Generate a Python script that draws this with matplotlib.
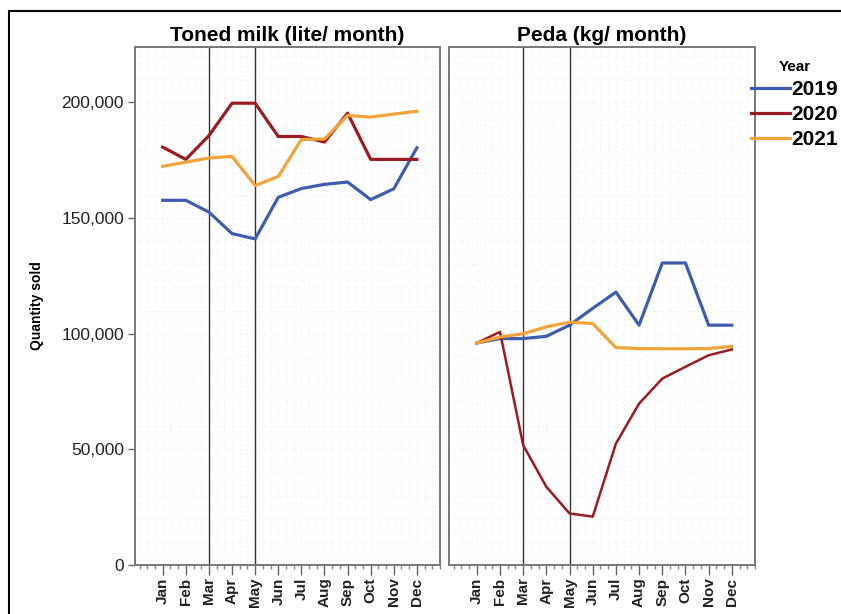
import matplotlib.pyplot as plt
from matplotlib.patches import Rectangle
from matplotlib.ticker import FuncFormatter, MultipleLocator
import numpy as np

plt.rcParams["font.family"] = ["Liberation Sans", "DejaVu Sans"]

# -------------------------
# DATA
# -------------------------
months = ["Jan", "Feb", "Mar", "Apr", "May", "Jun",
          "Jul", "Aug", "Sep", "Oct", "Nov", "Dec"]
years = ["2019", "2020", "2021"]
colors = ["#3f5daf", "#9b1b22", "#f2a33a"]

milk_2019 = [157700, 157700, 152600, 143300, 141000, 159000,
             162800, 164600, 165600, 158000, 162700, 180400]
milk_2020 = [180700, 175400, 185700, 199700, 199700, 185300,
             185300, 182900, 195400, 175400, 175400, 175400]
milk_2021 = [172400, 174200, 176000, 176700, 164100, 168000,
             184000, 184200, 194400, 193700, 195000, 196200]

peda_2019 = [96000, 97900, 97900, 98900, 103700, 111000,
             118000, 103700, 130600, 130600, 103700, 103700]
peda_2020 = [96000, 100800, 51800, 33800, 22300, 20900,
             52500, 69800, 80600, 85700, 90700, 93200]
peda_2021 = [96000, 98600, 100000, 103000, 105000, 104400,
             94000, 93600, 93500, 93500, 93600, 94500]

panel_titles = ["Toned milk (lite/ month)", "Peda (kg/ month)"]
panel_series = [[milk_2019, milk_2020, milk_2021],
                [peda_2019, peda_2020, peda_2021]]
marker_months = ["Mar", "May"]

# -------------------------
# FIGURE
# -------------------------
fig = plt.figure(figsize=(8.41, 6.14), dpi=100)
fig.patches.append(Rectangle((9 / 841, -0.1), 1.2, 1.1 - 11 / 614,
                             transform=fig.transFigure, fill=False,
                             edgecolor="black", linewidth=1.5))

x = np.arange(len(months))
positions = [(135 / 841, 440 / 841), (449 / 841, 755 / 841)]
bottom, top = 1 - 565 / 614, 1 - 47 / 614

axes = []
for i, (x0, x1) in enumerate(positions):
    ax = fig.add_axes([x0, bottom, x1 - x0, top - bottom])
    axes.append(ax)

    # faint dotted grid
    for gx in np.arange(-1, 12.01, 1 / 3):
        ax.axvline(gx, color="#ececec", linestyle=(0, (1, 3)), linewidth=0.8, zorder=0)
    for gy in range(10000, 224000, 10000):
        ax.axhline(gy, color="#ececec", linestyle=(0, (1, 3)), linewidth=0.8, zorder=0)

    for m in marker_months:
        ax.axvline(months.index(m), color="#333333", linewidth=1.0, zorder=1)

    for j, (vals, c) in enumerate(zip(panel_series[i], colors)):
        lw = 1.8 if (i == 1 and j == 1) else 2.3
        ax.plot(x, vals, color=c, linewidth=lw, zorder=3)

    ax.set_xlim(-1.2, 12.0)
    ax.set_ylim(0, 224000)
    ax.set_title(panel_titles[i], fontsize=15, fontweight="bold", pad=4)

    ax.set_xticks(x)
    ax.set_xticklabels(months, rotation=90, fontsize=11, fontweight="bold",
                       color="#222222")
    ax.xaxis.set_minor_locator(MultipleLocator(1 / 3))
    ax.tick_params(axis="x", which="major", length=7, width=1, color="#666666", pad=2)
    ax.tick_params(axis="x", which="minor", length=3, width=1, color="#888888")

    ax.set_yticks([0, 50000, 100000, 150000, 200000])
    ax.yaxis.set_major_formatter(FuncFormatter(lambda v, p: f"{int(v):,}"))
    ax.tick_params(axis="y", length=5, width=1, color="#666666", labelsize=12.5,
                   labelcolor="#222222", pad=3)

    for s in ax.spines.values():
        s.set_color("#777777")
        s.set_linewidth(1.4)

    if i == 1:
        ax.tick_params(axis="y", left=False, labelleft=False)

axes[0].set_ylabel("Quantity sold", fontsize=10, fontweight="bold", labelpad=12)

handles = [plt.Line2D([], [], color=c, linewidth=2.3) for c in colors]
leg = fig.legend(handles, years, title="Year", loc="upper left",
                 bbox_to_anchor=(732 / 841, 1 - 41 / 614), frameon=False,
                 prop={"size": 15, "weight": "bold"}, handlelength=1.9,
                 handletextpad=0.05, labelspacing=0.3)
leg.get_title().set_fontsize(11)
leg.get_title().set_fontweight("bold")

fig.savefig("out.png", dpi=100)
